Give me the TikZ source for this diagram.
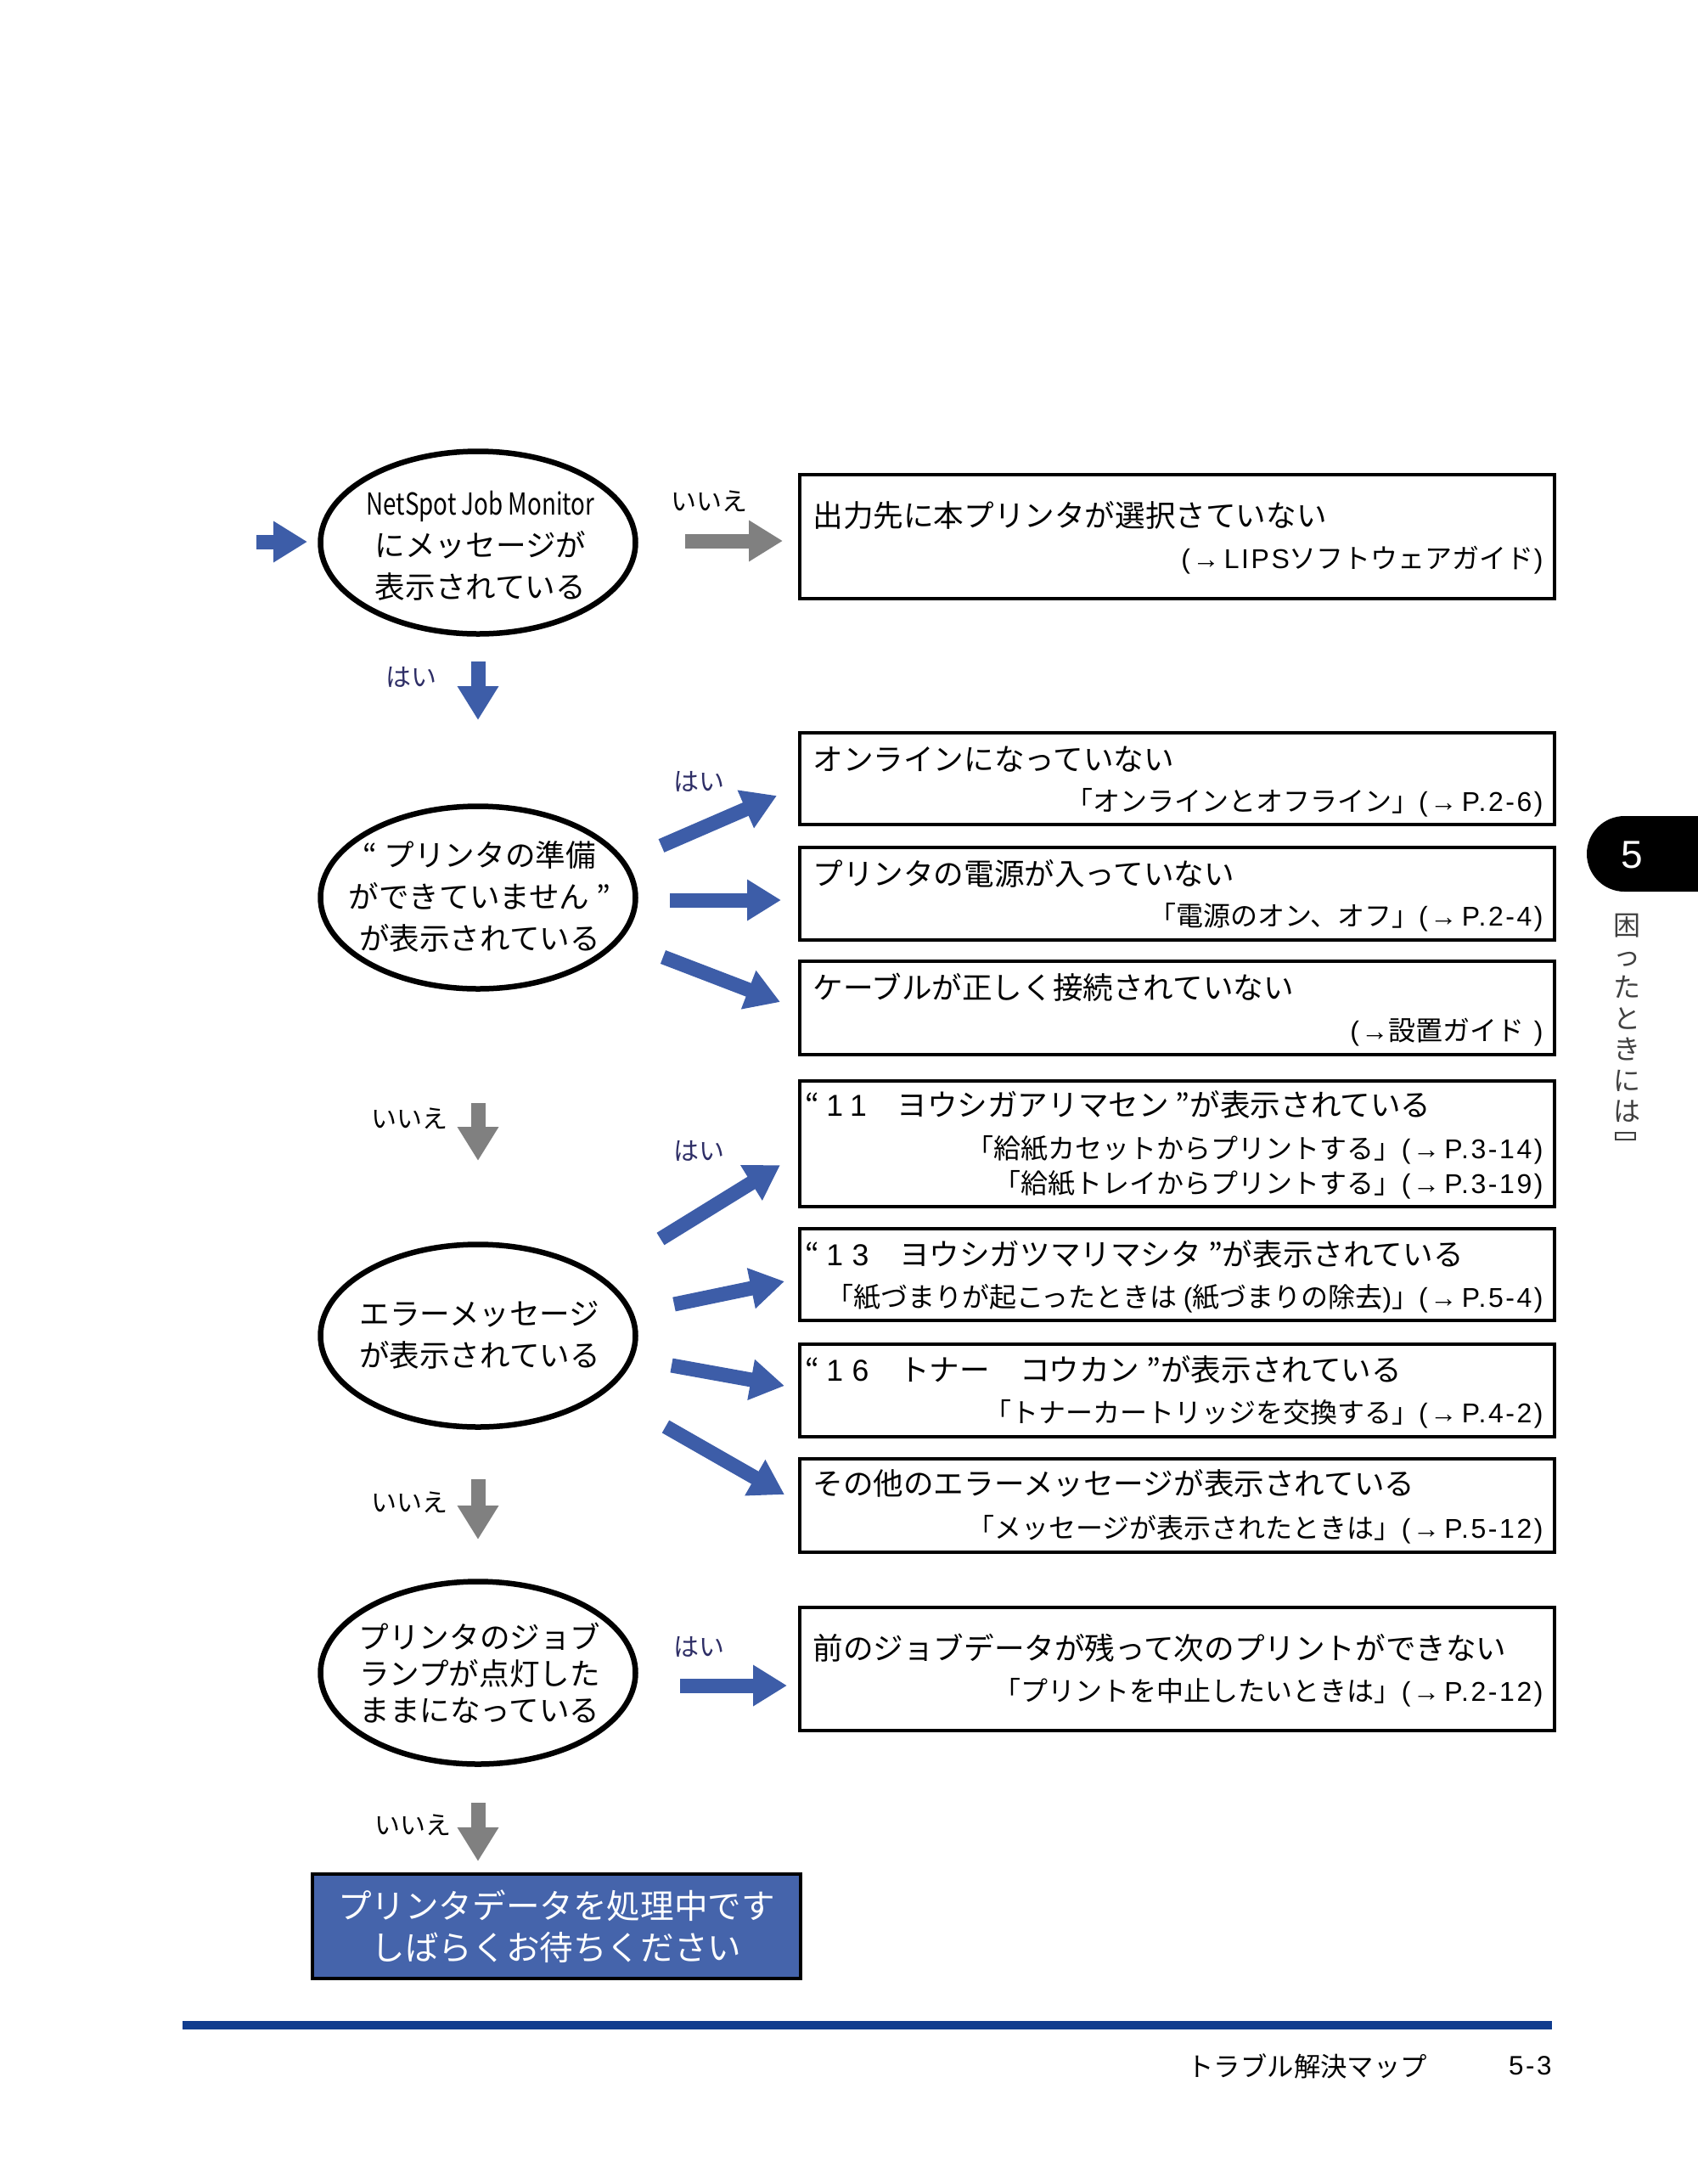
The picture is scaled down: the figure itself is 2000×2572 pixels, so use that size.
\documentclass[tikz,border=0pt]{standalone}
\usepackage{fontspec}
\usepackage{graphicx}
\newfontfamily\jp{Noto Sans CJK JP}
\newfontfamily\lat{Liberation Sans}[LetterSpace=8]
\newfontfamily\latw{Liberation Sans}[LetterSpace=30]
\newfontfamily\arialf{Liberation Sans}
\usetikzlibrary{arrows.meta,shapes.geometric,shapes.misc}
\definecolor{arrblue}{HTML}{3D5DA8}
\definecolor{arrgray}{HTML}{808080}
\definecolor{boxblue}{HTML}{4564AB}
\definecolor{rulec}{HTML}{103C8E}
\definecolor{yesc}{HTML}{2E2E66}
\definecolor{tabtext}{HTML}{404040}
\newcommand{\pgref}[1]{{\lat (→\,#1)}}
\begin{document}
\begin{tikzpicture}[x=0.5pt,y=-0.5pt,
 ell/.style={ellipse,draw,line width=3.25pt,minimum width=185.5pt,minimum height=107.5pt,inner sep=0pt},
 etext/.style={font=\jp\fontsize{17.8}{24.5}\selectfont,align=center,inner sep=0pt},
 msgbox/.style={rectangle,draw,line width=2.2pt,minimum width=444.5pt,inner sep=0pt},
 maintext/.style={font=\jp\fontsize{17.8}{22}\selectfont,anchor=west,inner sep=0pt},
 subtext/.style={font=\jp\fontsize{16}{20}\selectfont,anchor=east,inner sep=0pt},
 barrow/.style={color=arrblue,line width=8.5pt,-{Triangle[length=20pt,width=23pt]}},
 garrow/.style={color=arrgray,line width=8.5pt,-{Triangle[length=20pt,width=23pt]}},
 yeslbl/.style={font=\jp\fontsize{15}{18}\selectfont,text=yesc,inner sep=0pt},
 nolbl/.style={font=\jp\fontsize{15}{18}\selectfont,text=black,inner sep=0pt},
]
\useasboundingbox (0,0) rectangle (2000,2572);

% ellipses
\node[ell] (e1) at (563,639) {};
\node[etext] (t1) at (566,643) {\scalebox{0.78}[1]{NetSpot Job Monitor}\\にメッセージが\\表示されている};
\node[ell] (e2) at (563,1057) {};
\node[etext] (t2) at (565,1056) {“ プリンタの準備\\ができていません ”\\が表示されている};
\node[ell] (e3) at (563,1573) {};
\node[etext] (t3) at (565,1572) {エラーメッセージ\\が表示されている};
\node[ell] (e4) at (563,1970) {};
\node[etext,font=\jp\fontsize{17.8}{21.5}\selectfont] (t4) at (565,1970) {プリンタのジョブ\\ランプが点灯した\\ままになっている};

% message boxes
\node[msgbox,minimum height=73pt] (b1) at (1386.5,632) {};
\node[maintext] at (957,607) {出力先に本プリンタが選択さていない};
\node[subtext] at (1818,660) {{\lat (→\,LIPS}ソフトウェアガイド{\lat )}};

\node[msgbox,minimum height=54pt] (b2) at (1386.5,917) {};
\node[maintext] at (957,894) {オンラインになっていない};
\node[subtext] at (1818,945) {「オンラインとオフライン」\pgref{P.2-6}};

\node[msgbox,minimum height=54.5pt] (b3) at (1386.5,1052.5) {};
\node[maintext] at (957,1029) {プリンタの電源が入っていない};
\node[subtext] at (1818,1080) {「電源のオン、オフ」\pgref{P.2-4}};

\node[msgbox,minimum height=55pt] (b4) at (1386.5,1187) {};
\node[maintext] at (957,1163) {ケーブルが正しく接続されていない};
\node[subtext] at (1818,1216) {{\lat (→}設置ガイド{\lat\ )}};

\node[msgbox,minimum height=74pt] (b5) at (1386.5,1347) {};
\node[maintext] at (948,1301) {“ {\latw 11}　ヨウシガアリマセン ”が表示されている};
\node[subtext] at (1818,1354) {「給紙カセットからプリントする」\pgref{P.3-14}};
\node[subtext] at (1818,1395) {「給紙トレイからプリントする」\pgref{P.3-19}};

\node[msgbox,minimum height=54pt] (b6) at (1386.5,1501) {};
\node[maintext] at (948,1477) {“ {\latw 13}　ヨウシガツマリマシタ ”が表示されている};
\node[subtext] at (1818,1529) {「紙づまりが起こったときは {\lat (}紙づまりの除去{\lat )}」\pgref{P.5-4}};

\node[msgbox,minimum height=54.5pt] (b7) at (1386.5,1637.5) {};
\node[maintext] at (948,1613) {“ {\latw 16}　トナー　コウカン ”が表示されている};
\node[subtext] at (1818,1665) {「トナーカートリッジを交換する」\pgref{P.4-2}};

\node[msgbox,minimum height=55pt] (b8) at (1386.5,1773) {};
\node[maintext] at (957,1747) {その他のエラーメッセージが表示されている};
\node[subtext] at (1818,1801) {「メッセージが表示されたときは」\pgref{P.5-12}};

\node[msgbox,minimum height=72.5pt] (b9) at (1386.5,1965.5) {};
\node[maintext] at (957,1941) {前のジョブデータが残って次のプリントができない};
\node[subtext] at (1818,1993) {「プリントを中止したいときは」\pgref{P.2-12}};

% final blue box
\node[rectangle,draw=black,fill=boxblue,line width=2.2pt,minimum width=287.5pt,minimum height=61.5pt,inner sep=0pt,
  font=\jp\fontsize{19.8}{24.5}\selectfont,text=white,align=center] (fin) at (655.5,2268.5)
  {プリンタデータを処理中です\\しばらくお待ちください};

% arrows (block arrows)
\coordinate (s0) at (302,638); \coordinate (f0) at (362,638);
\draw[barrow] (s0) -- (f0);
\coordinate (s1) at (807,637); \coordinate (f1) at (922,637);
\draw[garrow] (s1) -- (f1);
\coordinate (s2) at (563,779); \coordinate (f2) at (563,848);
\draw[barrow] (s2) -- (f2);
\coordinate (s3) at (779,996); \coordinate (f3) at (915,937);
\draw[barrow] (s3) -- (f3);
\coordinate (s4) at (789,1060); \coordinate (f4) at (920,1060);
\draw[barrow] (s4) -- (f4);
\coordinate (s5) at (781,1127); \coordinate (f5) at (919,1180);
\draw[barrow] (s5) -- (f5);
\coordinate (s6) at (563,1299); \coordinate (f6) at (563,1367);
\draw[garrow] (s6) -- (f6);
\coordinate (s7) at (778,1459); \coordinate (f7) at (919,1372);
\draw[barrow] (s7) -- (f7);
\coordinate (s8) at (794,1536); \coordinate (f8) at (924,1509);
\draw[barrow] (s8) -- (f8);
\coordinate (s9) at (791,1608); \coordinate (f9) at (924,1632);
\draw[barrow] (s9) -- (f9);
\coordinate (s10) at (784,1680); \coordinate (f10) at (924,1760);
\draw[barrow] (s10) -- (f10);
\coordinate (s11) at (563,1742); \coordinate (f11) at (563,1813);
\draw[garrow] (s11) -- (f11);
\coordinate (s12) at (801,1985); \coordinate (f12) at (927,1985);
\draw[barrow] (s12) -- (f12);
\coordinate (s13) at (563,2123); \coordinate (f13) at (563,2192);
\draw[garrow] (s13) -- (f13);

% labels
\node[nolbl] (l1) at (835,590) {いいえ};
\node[yeslbl] (l2) at (484,797) {はい};
\node[yeslbl] (l3) at (823,920) {はい};
\node[nolbl] (l4) at (482,1317) {いいえ};
\node[yeslbl] (l5) at (823,1355) {はい};
\node[nolbl] (l6) at (482,1769) {いいえ};
\node[yeslbl] (l7) at (823,1939) {はい};
\node[nolbl] (l8) at (486,2149) {いいえ};

% footer
\coordinate (r1) at (215,2385); \coordinate (r2) at (1828,2385);
\draw[rulec,line width=5pt] (r1) -- (r2);
\node[anchor=west,inner sep=0pt,font=\jp\fontsize{15.7}{18}\selectfont] (foot) at (1398,2433) {トラブル解決マップ};
\node[anchor=east,inner sep=0pt,font=\lat\fontsize{15.7}{18}\selectfont] (pg) at (1828,2433) {5-3};

% chapter tab
\node[rounded rectangle,rounded rectangle right arc=none,fill=black,minimum width=65.5pt,minimum height=44.5pt,inner sep=0pt] (tab) at (1934.5,1005.5) {};
\node[inner sep=0pt,text=white,font=\arialf\fontsize{23}{23}\selectfont] (tabnum) at (1922,1007) {5};
\node[inner sep=0pt,text=tabtext,align=center,font=\jp\fontsize{16}{18.3}\selectfont] (vtext) at (1916,1199) {困\\っ\\た\\と\\き\\に\\は};
\draw[tabtext,line width=0.8pt] (1903,1334) rectangle (1926,1342);
\end{tikzpicture}
\end{document}
